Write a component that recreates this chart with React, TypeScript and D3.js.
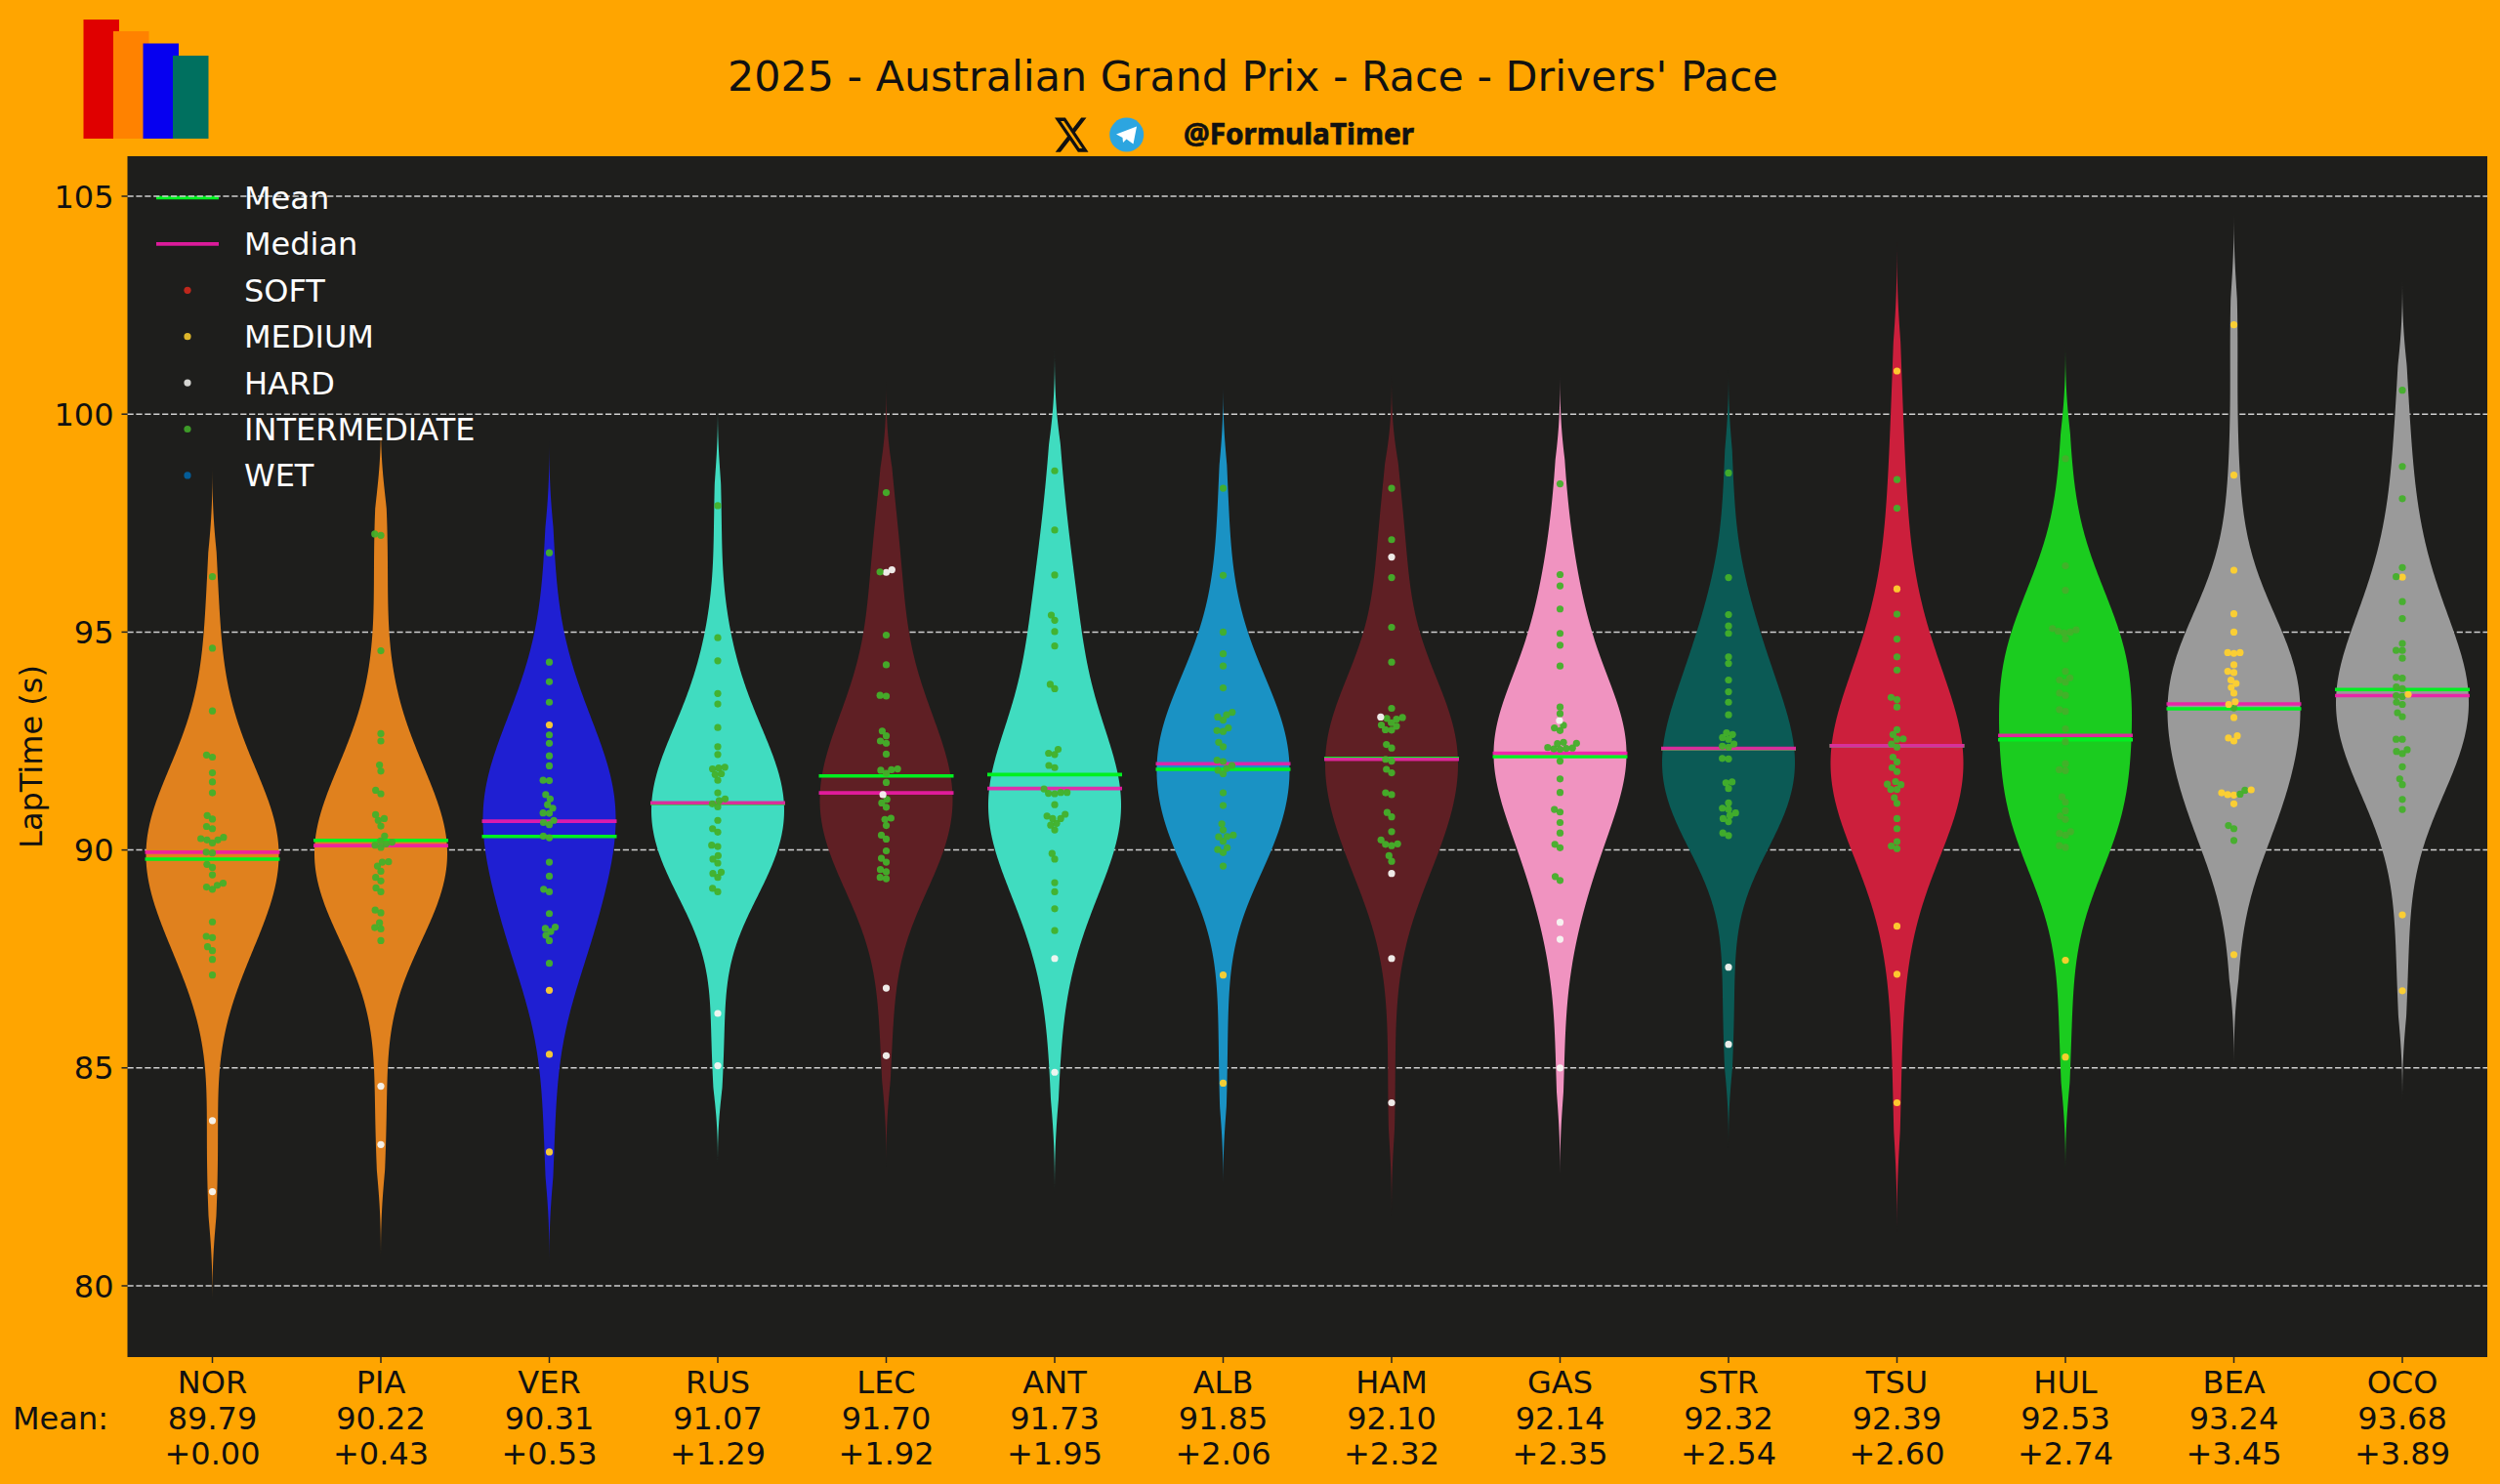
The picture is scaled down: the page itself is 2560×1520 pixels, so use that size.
import React, { useEffect } from "react";
import * as d3 from "d3";

const drivers = ["NOR","PIA","VER","RUS","LEC","ANT","ALB","HAM","GAS","STR","TSU","HUL","BEA","OCO"];
const meanLabels = ["89.79","90.22","90.31","91.07","91.70","91.73","91.85","92.10","92.14","92.32","92.39","92.53","93.24","93.68"];
const gapLabels = ["+0.00","+0.43","+0.53","+1.29","+1.92","+1.95","+2.06","+2.32","+2.35","+2.54","+2.60","+2.74","+3.45","+3.89"];
const meanValues = [89.79,90.22,90.31,91.07,91.70,91.73,91.85,92.10,92.14,92.32,92.39,92.53,93.24,93.68];
const medianValues = [89.95,90.10,90.66,91.08,91.31,91.41,91.98,92.08,92.22,92.33,92.39,92.63,93.35,93.54];
const violinColors = ["#e0811e","#e0811e","#1f1fd2","#40dcc0","#5f1f24","#40dcc0","#1a92c4","#5f1f24","#f093c0","#0b5a55","#cc1f3c","#1bcc1f","#9a9a9a","#9a9a9a"];

const compoundNames = ["SOFT","MEDIUM","HARD","INTERMEDIATE","WET"];
const compoundColors: Record<string,string> = { SOFT:"#da291c", MEDIUM:"#ffd12e", HARD:"#f6f6f2", INTERMEDIATE:"#43b02a", WET:"#0067ad" };

const inter: Record<string, number[]> = {
  NOR:[96.27,94.63,93.19,92.18,92.13,91.77,91.56,91.31,90.79,90.71,90.54,90.49,90.29,90.26,90.23,90.23,90.16,89.95,89.93,89.67,89.6,89.43,89.24,89.19,89.15,89.10,88.35,88.02,87.99,87.78,87.69,87.49,87.13],
  PIA:[97.25,97.22,94.57,92.67,92.5,91.95,91.81,91.37,91.29,90.81,90.72,90.68,90.55,90.32,90.21,90.18,90.14,90.11,90.06,89.73,89.72,89.63,89.51,89.37,89.29,89.13,89.04,88.62,88.56,88.33,88.22,88.19,87.92],
  VER:[96.82,94.31,93.86,93.39,92.64,92.45,92.16,91.93,91.6,91.59,91.27,91.17,91.04,90.96,90.85,90.84,90.68,90.63,90.58,90.32,90.28,89.72,89.40,89.1,89.04,88.54,88.23,88.2,88.13,88.04,87.92,87.40],
  RUS:[97.9,94.87,94.34,93.59,93.35,92.81,92.37,92.19,91.90,91.88,91.86,91.75,91.73,91.60,91.31,91.17,91.13,91.06,90.99,90.68,90.49,90.41,90.11,90.08,89.87,89.79,89.70,89.49,89.46,89.37,89.12,89.04],
  LEC:[98.2,96.38,94.93,94.25,93.55,93.53,92.73,92.62,92.50,92.45,92.20,91.86,91.84,91.83,91.76,91.55,91.16,91.08,90.98,90.73,90.70,90.56,90.34,90.25,89.98,89.81,89.72,89.55,89.50,89.37,89.34],
  ANT:[98.7,97.34,96.31,95.39,95.27,95.01,94.68,93.80,93.70,92.31,92.22,92.19,91.94,91.89,91.40,91.32,91.32,91.30,91.29,91.04,90.82,90.78,90.72,90.72,90.61,90.57,90.46,89.92,89.79,89.25,89.04,88.65,88.15],
  ALB:[98.3,96.30,95.0,94.5,94.22,93.72,93.16,93.10,93.05,92.98,92.80,92.74,92.72,92.47,92.37,92.06,92.03,91.94,91.87,91.83,91.75,91.31,91.02,90.60,90.46,90.34,90.31,90.30,90.20,90.05,90.01,89.94,89.63],
  HAM:[98.3,97.12,96.25,95.11,94.31,93.25,93.04,93.02,93.0,92.92,92.87,92.84,92.76,92.75,92.42,92.34,92.08,92.04,91.85,91.77,91.31,91.27,90.86,90.76,90.42,90.23,90.14,90.13,90.10,89.87,89.74],
  GAS:[98.4,96.32,96.06,95.53,94.97,94.70,94.22,93.28,93.13,92.86,92.80,92.74,92.47,92.45,92.44,92.35,92.34,92.33,92.32,92.31,92.04,91.63,91.32,90.93,90.87,90.63,90.39,90.13,90.05,89.39,89.30],
  STR:[98.65,96.25,95.40,95.14,94.97,94.43,94.28,93.90,93.63,93.39,93.10,92.69,92.65,92.58,92.54,92.43,92.38,92.36,92.10,92.09,91.56,91.54,91.41,91.08,90.96,90.93,90.85,90.79,90.72,90.65,90.39,90.33],
  TSU:[98.5,97.84,95.41,94.84,94.43,94.13,93.5,93.45,93.28,92.76,92.65,92.55,92.54,92.43,92.36,92.13,92.02,91.89,91.80,91.57,91.51,91.50,91.39,91.39,91.20,91.07,90.72,90.49,90.19,90.09,90.03],
  HUL:[98.98,96.52,95.96,95.08,95.05,95.02,95.0,94.98,94.84,94.1,93.95,93.9,93.85,93.6,93.55,93.22,93.18,92.78,92.48,91.98,91.84,91.82,91.22,91.1,90.9,90.78,90.7,90.42,90.38,90.34,90.1,90.06],
  BEA:[93.26,91.37,91.28,90.56,90.49,90.22],
  OCO:[100.55,98.8,98.06,96.48,96.27,95.7,95.31,94.74,94.58,94.58,94.40,93.96,93.94,93.74,93.70,93.54,93.52,93.39,93.34,93.15,93.06,92.54,92.54,92.30,92.26,92.21,91.91,91.63,91.50,91.16,90.93],
};
const medium: Record<string, number[]> = {
  VER:[92.87,86.78,85.31,83.07],
  ALB:[87.13,84.65],
  TSU:[100.99,95.99,88.25,87.15,84.2],
  HUL:[87.47,85.25],
  BEA:[102.05,98.6,96.42,95.42,95.0,94.53,94.53,94.51,94.25,94.10,94.07,93.9,93.82,93.73,93.6,93.4,93.34,93.04,92.62,92.57,92.5,91.38,91.31,91.27,91.26,91.06,87.6],
  OCO:[96.26,93.57,88.51,86.77],
};
const hard: Record<string, number[]> = {
  NOR:[83.79,82.16],
  PIA:[84.58,83.24],
  RUS:[86.25,85.05],
  LEC:[96.43,96.37,91.27,86.83,85.28],
  ANT:[87.51,84.9],
  HAM:[96.72,93.05,89.46,87.51,84.2],
  GAS:[92.97,88.34,87.95,85.0],
  STR:[87.31,85.54],
};

const WIDTH = 2560, HEIGHT = 1520;
const plot = { left: 130.5, right: 2547, top: 160, bottom: 1390 };
const FONT = "'DejaVu Sans', sans-serif";
const BW_ADJUST = 1.2;
const CUT = 1.67;
const TAPER = 1.3;

const yScale = d3.scaleLinear().domain([80, 105]).range([1317, 201]);
const xScale = d3.scalePoint<string>().domain(drivers).range([217.5, 2460]);
const yTicks = [80, 85, 90, 95, 100, 105];

type Dot = { value: number; compound: string };

function dotsFor(driver: string): Dot[] {
  return [
    ...(inter[driver] ?? []).map(value => ({ value, compound: "INTERMEDIATE" })),
    ...(medium[driver] ?? []).map(value => ({ value, compound: "MEDIUM" })),
    ...(hard[driver] ?? []).map(value => ({ value, compound: "HARD" })),
  ];
}

function kdePath(values: number[]) {
  const sd = d3.deviation(values) ?? 1;
  const bw = BW_ADJUST * sd * Math.pow(values.length, -0.2);
  const [lo, hi] = d3.extent(values) as [number, number];
  const start = lo - CUT * bw, end = hi + CUT * bw;
  const grid = d3.range(0, 300).map(i => start + (i / 299) * (end - start));
  const dens = grid.map(g => d3.sum(values, v => Math.exp(-0.5 * ((g - v) / bw) ** 2)));
  const w = d3.scaleLinear().domain([0, d3.max(dens) as number]).range([0, 68]);
  return grid.map((g, i) => {
    const t = Math.min(1, Math.min(g - start, end - g) / (TAPER * bw));
    return { g, hw: w(dens[i]) * t * (2 - t) * t };
  });
}

function swarm(dots: Dot[], cx: number, d: number) {
  const sorted = [...dots].sort((a, b) => a.value - b.value);
  const placed: { x: number; y: number; dot: Dot }[] = [];
  for (const dot of sorted) {
    const y = yScale(dot.value);
    const near = placed.filter(p => Math.abs(p.y - y) < d);
    const cands = [cx];
    near.forEach(p => {
      const dx = Math.sqrt(d * d - (p.y - y) ** 2);
      cands.push(p.x - dx, p.x + dx);
    });
    cands.sort((a, b) => Math.abs(a - cx) - Math.abs(b - cx));
    const x = cands.find(c => near.every(p => (p.x - c) ** 2 + (p.y - y) ** 2 >= d * d - 0.01)) ?? cx;
    placed.push({ x, y, dot });
  }
  return placed;
}

const legendRows = ["Mean", "Median", ...compoundNames];
const LEGEND_Y0 = 202.5, LEGEND_STEP = 47.4;

export default function App() {
  useEffect(() => { document.body.style.margin = "0"; document.body.style.background = "#ffa500"; }, []);
  return (
    <svg width={WIDTH} height={HEIGHT} viewBox={`0 0 ${WIDTH} ${HEIGHT}`} style={{ display: "block", fontFamily: FONT }}>
      <rect width={WIDTH} height={HEIGHT} fill="#ffa500" />
      {/* logo */}
      <rect x={85.5} y={20} width={36.5} height={122} fill="#e00000" />
      <rect x={116} y={32} width={36.5} height={110} fill="#ff8200" />
      <rect x={146.5} y={44.5} width={36.5} height={97.5} fill="#0600f0" />
      <rect x={177} y={57} width={36.5} height={85} fill="#00705f" />

      <text x={1283} y={93} textAnchor="middle" fontSize={42.8} fill="#111">2025 - Australian Grand Prix - Race - Drivers' Pace</text>

      {/* social */}
      <g transform="translate(1078,116.5) scale(1.6,1.8)">
        <path d="M18.244 2.25h3.308l-7.227 8.26 8.502 11.24H16.17l-5.214-6.817L4.99 21.75H1.68l7.73-8.835L1.254 2.25H8.08l4.713 6.231zm-1.161 17.52h1.833L7.084 4.126H5.117z" fill="#111" />
      </g>
      <circle cx={1153.7} cy={138} r={17.5} fill="#2ca5e0" />
      <path d="M1143 137.5 L1164 129.5 L1160.5 147.5 L1153.5 142.5 L1150 146 L1149.5 141 Z" fill="#fff" />
      <text x={1212} y={148} fontSize={30} fontWeight={700} fontFamily="'Noto Sans', sans-serif" fill="#111" stroke="#111" strokeWidth={0.7} textLength={236} lengthAdjust="spacingAndGlyphs">@FormulaTimer</text>

      {/* axes */}
      <rect x={plot.left} y={plot.top} width={plot.right - plot.left} height={plot.bottom - plot.top} fill="#1e1e1c" />
      <line x1={160} x2={224} y1={LEGEND_Y0} y2={LEGEND_Y0} stroke="#00f020" strokeWidth={3.6} />
      {yTicks.map(t => (
        <g key={t}>
          <line x1={plot.left} x2={plot.right} y1={yScale(t)} y2={yScale(t)} stroke="#d0d0d0" strokeWidth={1.5} strokeDasharray="6.2 2.7" />
          <line x1={plot.left - 6} x2={plot.left} y1={yScale(t)} y2={yScale(t)} stroke="#222" strokeWidth={1.5} />
          <text x={plot.left - 14} y={yScale(t) + 11.5} textAnchor="end" fontSize={32} fill="#111">{t}</text>
        </g>
      ))}
      <text transform={`translate(43,${(plot.top + plot.bottom) / 2}) rotate(-90)`} textAnchor="middle" fontSize={32} fill="#111">LapTime (s)</text>

      {/* violins */}
      {drivers.map((drv, i) => {
        const cx = xScale(drv) as number;
        const area = d3.area<{ g: number; hw: number }>().y(d => yScale(d.g)).x0(d => cx - d.hw).x1(d => cx + d.hw);
        const dots = dotsFor(drv);
        return (
          <path key={drv} d={area(kdePath(dots.map(d => d.value))) ?? ""} fill={violinColors[i]} />
        );
      })}

      {/* mean and median */}
      {drivers.map((drv, i) => {
        const cx = xScale(drv) as number;
        return (
          <g key={drv}>
            <line x1={cx - 69} x2={cx + 69} y1={yScale(meanValues[i])} y2={yScale(meanValues[i])} stroke="#00f020" strokeWidth={3.6} />
            <line x1={cx - 69} x2={cx + 69} y1={yScale(medianValues[i])} y2={yScale(medianValues[i])} stroke="#f01ba8" strokeOpacity={0.9} strokeWidth={3.6} />
          </g>
        );
      })}

      {/* swarm dots */}
      {drivers.map(drv => (
        <g key={drv}>
          {swarm(dotsFor(drv), xScale(drv) as number, 6.4).map((p, j) => (
            <circle key={j} cx={p.x} cy={p.y} r={3.6} fill={compoundColors[p.dot.compound]} fillOpacity={0.95} />
          ))}
        </g>
      ))}

      {/* x tick labels */}
      {drivers.map((drv, i) => {
        const cx = xScale(drv) as number;
        return (
          <g key={drv} fontSize={32} fill="#111" textAnchor="middle">
            <line x1={cx} x2={cx} y1={plot.bottom} y2={plot.bottom + 6} stroke="#222" strokeWidth={1.5} />
            <text x={cx} y={1427}>{drv}</text>
            <text x={cx} y={1464}>{meanLabels[i]}</text>
            <text x={cx} y={1500}>{gapLabels[i]}</text>
          </g>
        );
      })}
      <text x={13} y={1464} fontSize={32} fill="#111">Mean:</text>

      {/* legend */}
      {legendRows.map((label, i) => {
        const y = LEGEND_Y0 + i * LEGEND_STEP;
        return (
          <g key={label}>
            {i === 1 && <line x1={160} x2={224} y1={y} y2={y} stroke="#f01ba8" strokeOpacity={0.9} strokeWidth={3.6} />}
            {i > 1 && <circle cx={192} cy={y} r={3.6} fill={compoundColors[label]} fillOpacity={0.85} />}
            <text x={250} y={y + 11.5} fontSize={32} fill="#fff">{label}</text>
          </g>
        );
      })}
    </svg>
  );
}
